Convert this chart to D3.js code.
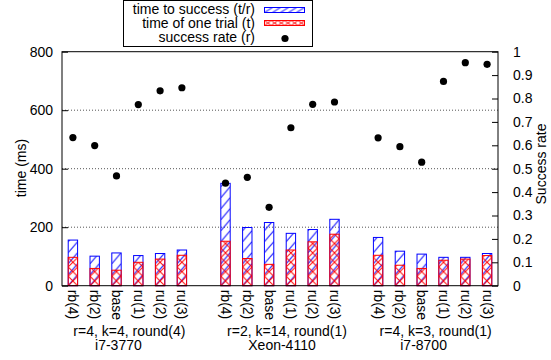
<!DOCTYPE html>
<html>
<head>
<meta charset="utf-8">
<script src="https://cdn.jsdelivr.net/npm/d3@7"></script>
<style>
  body { margin: 0; background: #fff; }
  svg { display: block; font-family: "Liberation Sans", Arial, sans-serif; }
  text { fill: #000; }
</style>
</head>
<body>
<svg id="chart"></svg>
<script>
// configurations per machine, bars per configuration
const configs = ["rb(4)", "rb(2)", "base", "ru(1)", "ru(2)", "ru(3)"];
const groupParams = ["r=4, k=4, round(4)", "r=2, k=14, round(1)", "r=4, k=3, round(1)"];
const cpus = ["i7-3770", "Xeon-4110", "i7-8700"];

// time to success t/r (ms)
const timeToSuccess = [
    [156, 101, 112, 103, 110, 122],
    [350, 199, 216, 179, 192, 227],
    [165, 118, 108, 97, 97, 110]
];
// time of one trial t (ms)
const timeOneTrial = [
    [97, 59, 53, 80, 91, 104],
    [152, 93, 73, 122, 150, 176],
    [104, 70, 59, 87, 91, 103]
];
// success rate r
const successRate = [
    [0.633, 0.599, 0.469, 0.774, 0.833, 0.846],
    [0.438, 0.463, 0.335, 0.675, 0.775, 0.785],
    [0.632, 0.594, 0.528, 0.873, 0.953, 0.946]
];

const yTicks = [0, 200, 400, 600, 800];
const y2Ticks = [0, 0.1, 0.2, 0.3, 0.4, 0.5, 0.6, 0.7, 0.8, 0.9, 1];
const legendLabels = ["time to success (t/r)", "time of one trial (t)", "success rate (r)"];

let width = 551,
    height = 360,
    plotL = 62, plotR = 498, plotT = 51.7, plotB = 285.7;

const svg = d3.select('#chart')
    .attr('width', width)
    .attr('height', height);
const defs = svg.append('defs');

// one slot per bar, an empty slot between machines
let rows = [];
configs.forEach((c, j) => cpus.forEach((cpu, g) => {
    rows.push({
        g: g, j: j, slot: g * 7 + j, label: c,
        tr: timeToSuccess[g][j], t: timeOneTrial[g][j], r: successRate[g][j]
    });
}));

const x = d3.scaleLinear().domain([-0.5, 19.5]).range([plotL, plotR]);
const y = d3.scaleLinear().domain([0, 800]).range([plotB, plotT]);
const y2 = d3.scaleLinear().domain([0, 1]).range([plotB, plotT]);
const bw = (x(1) - x(0)) * 0.43;

// hatch patterns anchored at each rect
function hatch(id, px, py, w, h, kind) {
    let p = defs.append('pattern')
        .attr('id', id)
        .attr('patternUnits', 'userSpaceOnUse')
        .attr('x', px).attr('y', py)
        .attr('width', w).attr('height', h);
    let d = kind == 'blue'
        ? `M0,${h} L${w},0`
        : `M0,0 L${w},${h} M${w},0 L0,${h}`;
    p.append('path')
        .attr('d', d)
        .attr('stroke', kind == 'blue' ? '#0000ff' : '#ff0000')
        .attr('stroke-width', 1)
        .attr('fill', 'none');
    return `url(#${id})`;
}

// dotted grid
svg.append('g')
    .selectAll('line')
    .data([200, 400, 600])
    .enter().append('line')
      .attr('x1', plotL).attr('x2', plotR)
      .attr('y1', (d) => y(d)).attr('y2', (d) => y(d))
      .attr('stroke', '#555')
      .attr('stroke-dasharray', '1,2');

// bars: t/r behind, t in front
let bars = svg.append('g').attr('class', 'bars');
rows.forEach((d, i) => {
    let bx = x(d.slot) - bw / 2;
    bars.append('rect')
        .attr('x', bx).attr('y', y(d.tr))
        .attr('width', bw).attr('height', y(0) - y(d.tr))
        .attr('fill', hatch('b' + i, bx, y(0), bw, 11, 'blue'))
        .attr('stroke', '#0000ff');
    bars.append('rect')
        .attr('x', bx).attr('y', y(d.t))
        .attr('width', bw).attr('height', y(0) - y(d.t))
        .attr('fill', hatch('r' + i, bx, y(0), bw, bw, 'red'))
        .attr('stroke', '#ff0000');
});

// success rate points
svg.append('g')
    .selectAll('circle')
    .data(rows)
    .enter().append('circle')
      .attr('cx', (d) => x(d.slot))
      .attr('cy', (d) => y2(d.r))
      .attr('r', 3.6)
      .attr('fill', '#000');

// frame
svg.append('rect')
    .attr('x', plotL).attr('y', plotT)
    .attr('width', plotR - plotL).attr('height', plotB - plotT)
    .attr('fill', 'none')
    .attr('stroke', '#000');

// axes
let yAxis = svg.append('g')
    .attr('transform', `translate(${plotL},0)`)
    .call(d3.axisLeft(y).tickValues(yTicks).tickSize(-6).tickPadding(9));
let y2Axis = svg.append('g')
    .attr('transform', `translate(${plotR},0)`)
    .call(d3.axisRight(y2).tickValues(y2Ticks).tickSize(-6).tickPadding(15)
        .tickFormat((d) => String(+d.toFixed(1))));
let xAxis = svg.append('g')
    .attr('transform', `translate(0,${plotB})`)
    .call(d3.axisBottom(x).tickValues(rows.map((d) => d.slot)).tickSize(0)
        .tickFormat((s) => rows.find((d) => d.slot == s).label));
xAxis.selectAll('text')
    .attr('y', 0).attr('dy', null)
    .attr('transform', 'translate(0,4) rotate(90)')
    .attr('text-anchor', 'start')
    .attr('dominant-baseline', 'central');
[yAxis, y2Axis, xAxis].forEach((a) => {
    // drop d3's default sans-serif so the page font is used
    a.attr('font-family', null).attr('font-size', 14);
    a.select('.domain').remove();
    a.selectAll('text').attr('fill', '#000');
    a.selectAll('line').attr('stroke', '#000');
});

// machine labels under each group
const line1Dx = [2, 7, 3], line2Dx = [-9, 2, -9];
let glab = svg.append('g').attr('font-size', 14).attr('text-anchor', 'middle');
cpus.forEach((cpu, g) => {
    let cx = x(g * 7 + 2.5);
    glab.append('text').attr('x', cx + line1Dx[g]).attr('y', 336).text(groupParams[g]);
    glab.append('text').attr('x', cx + line2Dx[g]).attr('y', 350).text(cpu);
});

// axis titles
svg.append('text')
    .attr('transform', 'translate(26,168) rotate(-90)')
    .attr('text-anchor', 'middle')
    .attr('font-size', 14)
    .text('time (ms)');
svg.append('text')
    .attr('transform', 'translate(546,164) rotate(-90)')
    .attr('text-anchor', 'middle')
    .attr('font-size', 14)
    .text('Success rate');

// key
let key = svg.append('g').attr('class', 'key');
key.append('rect')
    .attr('x', 123.5).attr('y', 0.5)
    .attr('width', 189).attr('height', 46)
    .attr('fill', '#fff')
    .attr('stroke', '#000');
key.selectAll('text')
    .data(legendLabels)
    .enter().append('text')
      .attr('x', 255)
      .attr('y', (d, i) => 14 + i * 13.8)
      .attr('text-anchor', 'end')
      .attr('font-size', 14)
      .text((d) => d);
key.append('rect')
    .attr('x', 264.5).attr('y', 7.5).attr('width', 40).attr('height', 5)
    .attr('fill', hatch('kb', 264.5, 12.5, 8, 5, 'blue'))
    .attr('stroke', '#0000ff');
key.append('rect')
    .attr('x', 264.5).attr('y', 20.5).attr('width', 40).attr('height', 5)
    .attr('fill', hatch('kr', 264.5, 25.5, 6.7, 5, 'red'))
    .attr('stroke', '#ff0000');
key.append('circle')
    .attr('cx', 285).attr('cy', 38.5).attr('r', 3.6)
    .attr('fill', '#000');
</script>
</body>
</html>
